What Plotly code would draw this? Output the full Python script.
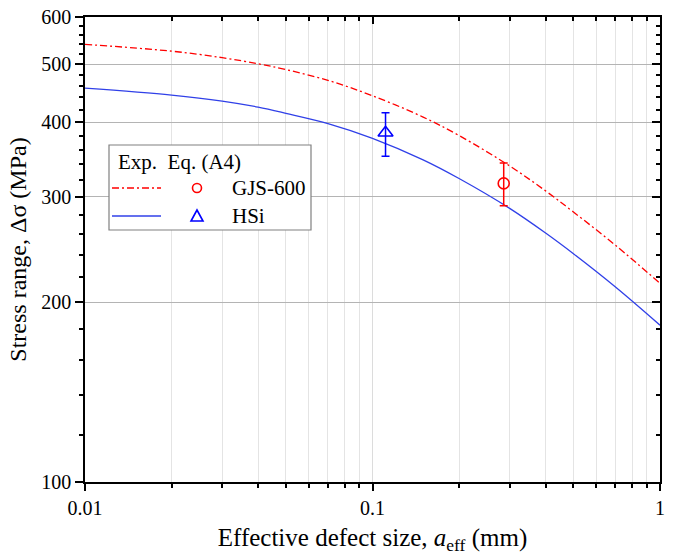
import plotly.graph_objects as go
import numpy as np

# ---- data ----
a_curve = [0.01, 0.02, 0.03, 0.04, 0.05, 0.07, 0.1, 0.15, 0.2, 0.3, 0.4, 0.5, 0.7, 1.0]
gjs_eq = [540, 526, 513, 501, 490, 470, 443, 408, 380, 338, 307, 283, 249, 215]
hsi_eq = [456, 444, 434, 424, 414, 398, 376, 346, 322, 287, 261, 241, 212, 183]

gjs_exp_a = [0.286]
gjs_exp_s = [316]
gjs_err_plus = [26]
gjs_err_minus = [26]

hsi_exp_a = [0.111]
hsi_exp_s = [384]
hsi_err_plus = [31]
hsi_err_minus = [33]

y_major = [100, 200, 300, 400, 500, 600]
y_minor = [v for v in range(120, 600, 20) if v not in y_major]
x_major = [0.01, 0.1, 1]
x_minor = [d * 10.0 ** e for e in (-2, -1) for d in range(2, 10)]
x_major_text = ["0.01", "0.1", "1"]

RED = "#ff0000"
BLUE_LINE = "#3040e8"
BLUE = "#0000ff"
FONT = "Liberation Serif"

fig = go.Figure()

fig.add_trace(go.Scatter(x=a_curve, y=gjs_eq, mode="lines", line=dict(color=RED, width=1.3, dash="7px,3px,2px,3px"),
                         line_shape="spline", showlegend=False))
fig.add_trace(go.Scatter(x=a_curve, y=hsi_eq, mode="lines", line=dict(color=BLUE_LINE, width=1.3),
                         line_shape="spline", showlegend=False))
fig.add_trace(go.Scatter(x=gjs_exp_a, y=gjs_exp_s, mode="markers",
                         marker=dict(symbol="circle-open", size=11, color=RED, line=dict(width=1.6, color=RED)),
                         error_y=dict(type="data", array=gjs_err_plus, arrayminus=gjs_err_minus, color=RED,
                                      thickness=1.5, width=4),
                         showlegend=False))
fig.add_trace(go.Scatter(x=hsi_exp_a, y=hsi_exp_s, mode="markers",
                         marker=dict(symbol="triangle-up-open", size=13, color=BLUE, line=dict(width=1.6, color=BLUE)),
                         error_y=dict(type="data", array=hsi_err_plus, arrayminus=hsi_err_minus, color=BLUE,
                                      thickness=1.5, width=4),
                         showlegend=False))
# invisible trace for mirrored (inside-tick) axes
fig.add_trace(go.Scatter(x=[0.01], y=[100], xaxis="x2", yaxis="y2", mode="markers",
                         marker=dict(opacity=0), showlegend=False, hoverinfo="skip"))

xr = [-2, 0]
yr = [2, float(np.log10(600))]
tickfont = dict(family=FONT, size=20, color="black")

fig.update_layout(
    width=673, height=555,
    margin=dict(l=85, r=13, t=17, b=73, autoexpand=False),
    paper_bgcolor="white", plot_bgcolor="white",
    font=dict(family=FONT, color="black"),
    xaxis=dict(type="log", range=xr, tickvals=x_major, ticktext=x_major_text, ticks="outside", automargin=False,
               ticklen=7, tickwidth=1.5, tickcolor="black", showline=True, linecolor="black", linewidth=1.6,
               showgrid=True, gridcolor="#dcdcdc", gridwidth=1, zeroline=False, tickfont=tickfont,
               minor=dict(tickmode="array", tickvals=x_minor, ticks="outside", ticklen=4, tickwidth=1.5,
                          tickcolor="black", showgrid=True, gridcolor="#e4e4e4", gridwidth=1),
               title=dict(text="Effective defect size, <i>a</i><sub>eff</sub> (mm)",
                          font=dict(family=FONT, size=25), standoff=17)),
    yaxis=dict(type="log", range=yr, tickvals=y_major, ticktext=[str(v) for v in y_major], ticks="outside",
               automargin=False,
               ticklen=8, tickwidth=1.5, tickcolor="black", showline=True, linecolor="black", linewidth=1.6,
               showgrid=True, gridcolor="#b4b4b4", gridwidth=1, zeroline=False, tickfont=tickfont,
               minor=dict(tickmode="array", tickvals=y_minor, ticks="outside", ticklen=4, tickwidth=1.5,
                          tickcolor="black", showgrid=False),
               title=dict(text="Stress range, Δσ (MPa)", font=dict(family=FONT, size=24), standoff=8)),
    xaxis2=dict(type="log", range=xr, overlaying="x", side="top", tickvals=x_major, showticklabels=False,
                automargin=False,
                ticks="inside", ticklen=7, tickwidth=1.5, tickcolor="black", showline=True, linecolor="black",
                linewidth=1.6, showgrid=False, zeroline=False,
                minor=dict(tickmode="array", tickvals=x_minor, ticks="inside", ticklen=4, tickwidth=1.5,
                           tickcolor="black", showgrid=False)),
    yaxis2=dict(type="log", range=yr, overlaying="y", side="right", tickvals=y_major, showticklabels=False,
                automargin=False,
                ticks="inside", ticklen=8, tickwidth=1.5, tickcolor="black", showline=True, linecolor="black",
                linewidth=1.6, showgrid=False, zeroline=False,
                minor=dict(tickmode="array", tickvals=y_minor, ticks="inside", ticklen=4, tickwidth=1.5,
                           tickcolor="black", showgrid=False)),
)

# ---- custom legend (paper coordinates) ----
W, H = 575.0, 465.0
def px(x):
    return (x - 85) / W
def py(y):
    return (482 - y) / H

shapes = []
shapes.append(dict(type="rect", xref="paper", yref="paper", x0=px(109), x1=px(311), y0=py(230), y1=py(145),
                   line=dict(color="#808080", width=1.2), fillcolor="white", layer="above"))
shapes.append(dict(type="line", xref="paper", yref="paper", x0=px(112), x1=px(161), y0=py(188), y1=py(188),
                   line=dict(color=RED, width=1.3, dash="7px,3px,2px,3px"), layer="above"))
shapes.append(dict(type="line", xref="paper", yref="paper", x0=px(112), x1=px(161), y0=py(216), y1=py(216),
                   line=dict(color=BLUE_LINE, width=1.3), layer="above"))
r = 4.5
shapes.append(dict(type="circle", xref="paper", yref="paper", x0=px(197 - r), x1=px(197 + r),
                   y0=py(188 + r), y1=py(188 - r), line=dict(color=RED, width=1.6), layer="above"))
tri = "M {},{} L {},{} L {},{} Z".format(px(197), py(210), px(191), py(221), px(203), py(221))
shapes.append(dict(type="path", xref="paper", yref="paper", path=tri, line=dict(color=BLUE, width=1.6),
                   layer="above"))
fig.update_layout(shapes=shapes)

ann = [
    dict(text="Exp.  Eq. (A4)", x=px(116), y=py(162), xanchor="left", yanchor="middle"),
    dict(text="GJS-600", x=px(230), y=py(188), xanchor="left", yanchor="middle"),
    dict(text="HSi", x=px(230), y=py(216), xanchor="left", yanchor="middle"),
]
for a in ann:
    a.update(xref="paper", yref="paper", showarrow=False, font=dict(family=FONT, size=21, color="black"))
fig.update_layout(annotations=ann)

fig.write_html("out.html")
